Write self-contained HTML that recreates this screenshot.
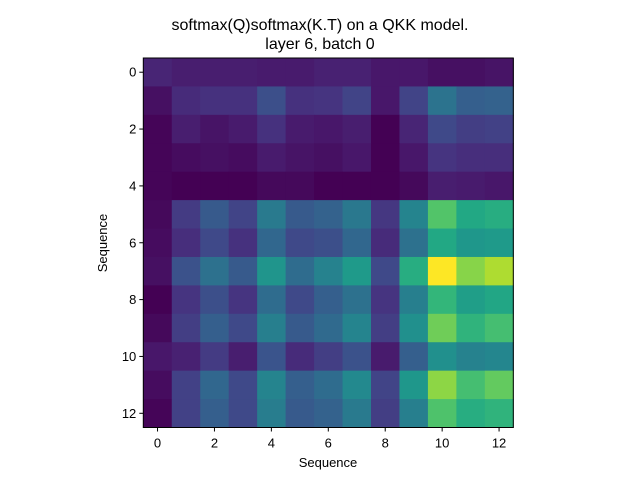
<!DOCTYPE html>
<html><head><meta charset="utf-8"><style>
body{margin:0;background:#fff;}
svg text{font-family:"Liberation Sans","DejaVu Sans",sans-serif;fill:#000;}
</style></head><body>
<svg id="chart" width="640" height="480" xmlns="http://www.w3.org/2000/svg">
<rect width="640" height="480" fill="#fff"/>
<text x="320" y="30" font-size="16" text-anchor="middle">softmax(Q)softmax(K.T) on a QKK model.</text>
<text x="320" y="49" font-size="16" text-anchor="middle">layer 6, batch 0</text>
<g id="cells"></g>
<rect x="143.3" y="58" width="370" height="369.5" fill="none" stroke="#000" stroke-width="1"/>
<g id="xticks"></g>
<g id="yticks"></g>
<text x="328" y="467" font-size="13" text-anchor="middle">Sequence</text>
<text x="107" y="243" font-size="13" text-anchor="middle" transform="rotate(-90 107 243)">Sequence</text>
</svg>
<script>
const rowLabels=[0,1,2,3,4,5,6,7,8,9,10,11,12];
const colLabels=[0,1,2,3,4,5,6,7,8,9,10,11,12];
const tickLabels=[0,2,4,6,8,10,12];
const values=[
[0.10,0.08,0.08,0.08,0.07,0.07,0.09,0.09,0.06,0.06,0.04,0.04,0.05],
[0.04,0.12,0.14,0.14,0.24,0.14,0.15,0.20,0.06,0.20,0.38,0.30,0.31],
[0.01,0.08,0.05,0.07,0.14,0.07,0.06,0.08,0.00,0.10,0.22,0.18,0.19],
[0.01,0.03,0.04,0.03,0.07,0.05,0.04,0.06,0.00,0.06,0.15,0.13,0.13],
[0.01,0.00,0.00,0.00,0.02,0.02,0.00,0.00,0.00,0.02,0.08,0.07,0.06],
[0.02,0.17,0.28,0.20,0.41,0.28,0.31,0.40,0.16,0.45,0.73,0.60,0.62],
[0.03,0.13,0.22,0.14,0.33,0.22,0.24,0.33,0.12,0.37,0.60,0.53,0.54],
[0.04,0.25,0.37,0.28,0.52,0.35,0.44,0.54,0.22,0.62,1.00,0.82,0.88],
[0.00,0.15,0.24,0.15,0.35,0.22,0.30,0.37,0.15,0.43,0.66,0.56,0.59],
[0.02,0.18,0.30,0.22,0.43,0.28,0.34,0.45,0.18,0.50,0.78,0.65,0.70],
[0.06,0.09,0.17,0.08,0.26,0.12,0.18,0.25,0.07,0.30,0.50,0.44,0.46],
[0.03,0.19,0.33,0.22,0.45,0.30,0.35,0.47,0.20,0.53,0.83,0.70,0.76],
[0.01,0.19,0.30,0.22,0.42,0.28,0.31,0.41,0.18,0.43,0.72,0.62,0.65]
];
const VIR=["#440154","#481a6c","#472f7d","#414487","#39568c","#31688e","#2a788e","#23888e","#1f988b","#22a884","#35b779","#54c568","#7ad151","#a5db36","#d2e21b","#fde725"];
function hex(h){return [1,3,5].map(i=>parseInt(h.substr(i,2),16));}
function viridis(t){t=Math.max(0,Math.min(1,t));const p=t*(VIR.length-1);const i=Math.min(Math.floor(p),VIR.length-2);const f=p-i;const a=hex(VIR[i]),b=hex(VIR[i+1]);return "rgb("+a.map((v,k)=>Math.round(v+(b[k]-v)*f)).join(",")+")";}
const X0=143.3,Y0=58,W=370,H=369.5,n=13;
const cw=W/n,ch=H/n;
function xs(c){return X0+(c+0.5)*cw;}
function ys(r){return Y0+(r+0.5)*ch;}
const NS="http://www.w3.org/2000/svg";
const cells=document.getElementById('cells');
rowLabels.forEach((r,ri)=>{colLabels.forEach((c,ci)=>{
const e=document.createElementNS(NS,'rect');
e.setAttribute('x',xs(ci)-cw/2);e.setAttribute('y',ys(ri)-ch/2);
e.setAttribute('width',cw+0.5);e.setAttribute('height',ch+0.5);
e.setAttribute('fill',viridis(values[ri][ci]));


cells.appendChild(e);});});
const xt=document.getElementById('xticks'),yt=document.getElementById('yticks');
tickLabels.forEach(t=>{
const l=document.createElementNS(NS,'line');
l.setAttribute('x1',xs(t));l.setAttribute('x2',xs(t));l.setAttribute('y1',Y0+H);l.setAttribute('y2',Y0+H+4);l.setAttribute('stroke','#000');


xt.appendChild(l);
const tx=document.createElementNS(NS,'text');
tx.setAttribute('x',xs(t));tx.setAttribute('y',Y0+H+20);tx.setAttribute('font-size','13');tx.setAttribute('text-anchor','middle');tx.textContent=t;


xt.appendChild(tx);
const m=document.createElementNS(NS,'line');
m.setAttribute('x1',X0-4);m.setAttribute('x2',X0);m.setAttribute('y1',ys(t));m.setAttribute('y2',ys(t));m.setAttribute('stroke','#000');


yt.appendChild(m);
const ty=document.createElementNS(NS,'text');
ty.setAttribute('x',X0-7);ty.setAttribute('y',ys(t)+4.5);ty.setAttribute('font-size','13');ty.setAttribute('text-anchor','end');ty.textContent=t;


yt.appendChild(ty);
});
</script>
</body></html>
